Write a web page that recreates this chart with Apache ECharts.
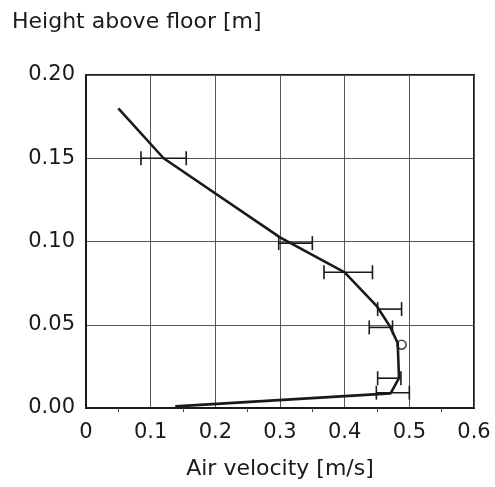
<!DOCTYPE html>
<html>
<head>
<meta charset="utf-8">
<script src="https://cdn.jsdelivr.net/npm/echarts@6/dist/echarts.min.js"></script>
<style>
  html, body { margin: 0; padding: 0; background: #fff; }
  #chart { width: 495px; height: 487px; }
</style>
</head>
<body>
<div id="chart"></div>
<script>
// profile line: air velocity [m/s] vs height [m]
var velocity = [0.05, 0.12, 0.30, 0.40, 0.45, 0.47, 0.482, 0.484, 0.471, 0.138];
var height   = [0.180, 0.150, 0.1025, 0.0815, 0.061, 0.049, 0.039, 0.018, 0.0088, 0.001];

// horizontal error bars: height, low, high
var errHeight = [0.150, 0.099, 0.0815, 0.0594, 0.0484, 0.0179, 0.0092];
var errLow    = [0.085, 0.298, 0.368, 0.451, 0.438, 0.451, 0.449];
var errHigh   = [0.155, 0.350, 0.443, 0.488, 0.474, 0.487, 0.500];

// single open circle
var circleVel = [0.488];
var circleHeight = [0.038];

var xTicks = ['0', '0.1', '0.2', '0.3', '0.4', '0.5', '0.6'];
var yTicks = ['0.00', '0.05', '0.10', '0.15', '0.20'];

var font = 'DejaVu Sans';
var ink = '#1a1a1a';

var lineData = velocity.map(function (v, i) { return [v, height[i]]; });
var errData = errHeight.map(function (h, i) { return [errLow[i], errHigh[i], h]; });
var circleData = circleVel.map(function (v, i) { return [v, circleHeight[i]]; });

var chart = echarts.init(document.getElementById('chart'));

chart.setOption({
  animation: false,
  backgroundColor: '#fff',
  title: {
    text: 'Height above floor [m]',
    left: 7,
    top: 6,
    textStyle: { fontFamily: font, fontSize: 22, fontWeight: 'normal', color: ink }
  },
  grid: {
    left: 86, right: 21, top: 75, bottom: 79,
    show: true, borderColor: ink, borderWidth: 2, backgroundColor: 'transparent'
  },
  xAxis: {
    type: 'value',
    min: 0, max: 0.6, interval: 0.1,
    name: 'Air velocity [m/s]',
    nameLocation: 'middle',
    nameGap: 50,
    nameTextStyle: { fontFamily: font, fontSize: 22, color: ink },
    axisLine: { show: true, onZero: false, lineStyle: { color: ink, width: 2 } },
    axisTick: { show: false },
    minorTick: { show: true, splitNumber: 2, length: 4, lineStyle: { color: '#444' } },
    splitLine: { show: true, lineStyle: { color: '#555', width: 1 } },
    axisLabel: {
      fontFamily: font, fontSize: 21, color: ink, margin: 14,
      formatter: function (v) { return xTicks[Math.round(v * 10)]; }
    }
  },
  yAxis: {
    type: 'value',
    min: 0, max: 0.2, interval: 0.05,
    axisLine: { show: true, onZero: false, lineStyle: { color: ink, width: 2 } },
    axisTick: { show: false },
    splitLine: { show: true, lineStyle: { color: '#555', width: 1 } },
    axisLabel: {
      fontFamily: font, fontSize: 21, color: ink, margin: 11,
      formatter: function (v) { return yTicks[Math.round(v * 20)]; }
    }
  },
  series: [
    {
      type: 'line',
      data: lineData,
      showSymbol: false,
      lineStyle: { color: ink, width: 2.6 },
      z: 3
    },
    {
      type: 'custom',
      data: errData,
      encode: { x: [0, 1], y: 2 },
      renderItem: function (params, api) {
        var a = api.coord([api.value(0), api.value(2)]);
        var b = api.coord([api.value(1), api.value(2)]);
        var cap = 7;
        var style = { stroke: ink, lineWidth: 1.6 };
        return {
          type: 'group',
          children: [
            { type: 'line', shape: { x1: a[0], y1: a[1], x2: b[0], y2: b[1] }, style: style },
            { type: 'line', shape: { x1: a[0], y1: a[1] - cap, x2: a[0], y2: a[1] + cap }, style: style },
            { type: 'line', shape: { x1: b[0], y1: b[1] - cap, x2: b[0], y2: b[1] + cap }, style: style }
          ]
        };
      },
      z: 2
    },
    {
      type: 'scatter',
      data: circleData,
      symbol: 'circle',
      symbolSize: 9,
      itemStyle: { color: 'rgba(0,0,0,0)', borderColor: ink, borderWidth: 1.6 },
      z: 4
    }
  ]
});
</script>
</body>
</html>
